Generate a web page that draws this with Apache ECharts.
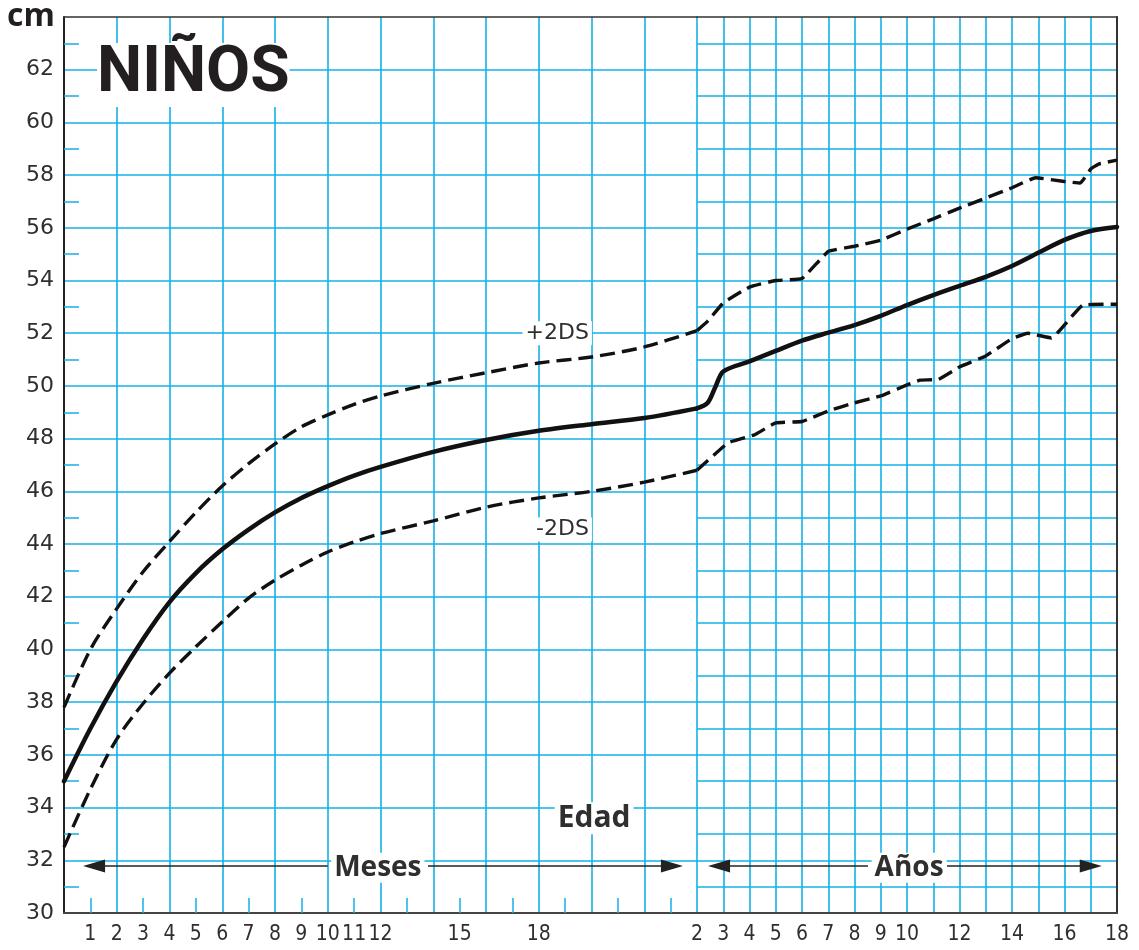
<!DOCTYPE html>
<html>
<head>
<meta charset="utf-8">
<title>NIÑOS</title>
<script src="https://cdn.jsdelivr.net/npm/echarts@6/dist/echarts.min.js"></script>
<style>
html, body { margin: 0; padding: 0; background: #fff; }
#chart { width: 1139px; height: 950px; }
</style>
</head>
<body>
<div id="chart"></div>
<script>
// primer tramo: edad en meses (0 a 24)
var edadMeses = [0, 1, 2, 3, 4, 5, 6, 7, 8, 9, 10, 11, 12, 14, 16, 18, 20, 22, 24];
var medianaMeses = [35.0, 37.0, 38.8, 40.4, 41.8, 42.9, 43.8, 44.55, 45.2, 45.75, 46.2, 46.6, 46.93, 47.5, 47.95, 48.3, 48.55, 48.78, 49.15];
var mas2dsMeses = [37.8, 40.0, 41.55, 42.95, 44.1, 45.2, 46.2, 47.05, 47.8, 48.45, 48.9, 49.3, 49.62, 50.1, 50.5, 50.87, 51.1, 51.48, 52.1];
var menos2dsMeses = [32.5, 34.7, 36.6, 37.95, 39.1, 40.1, 41.05, 41.95, 42.63, 43.2, 43.7, 44.08, 44.4, 44.88, 45.4, 45.75, 46.0, 46.35, 46.8];

// segundo tramo: edad en años (2 a 18)
var medianaEdadAnos = [2.4, 2.7, 3, 4, 5, 6, 7, 8, 9, 10, 11, 12, 13, 14, 15, 16, 17, 18];
var medianaAnos = [49.35, 49.96, 50.55, 50.93, 51.33, 51.72, 52.02, 52.31, 52.66, 53.07, 53.45, 53.8, 54.14, 54.55, 55.05, 55.54, 55.88, 56.03];
var mas2dsEdadAnos = [2.4, 3, 4, 5, 6, 7, 8, 9, 10, 11, 12, 13, 14, 14.9, 16, 16.6, 17, 17.3, 18];
var mas2dsAnos = [52.45, 53.15, 53.75, 54.0, 54.08, 55.1, 55.3, 55.53, 55.95, 56.34, 56.75, 57.13, 57.52, 57.9, 57.76, 57.7, 58.23, 58.42, 58.57];
var menos2dsEdadAnos = [3.2, 4.2, 5, 6, 7, 8, 9, 10, 10.5, 11.2, 12, 13, 14, 14.6, 15.5, 16.7, 18];
var menos2dsAnos = [47.85, 48.15, 48.6, 48.65, 49.05, 49.36, 49.62, 50.04, 50.22, 50.25, 50.72, 51.14, 51.79, 52.0, 51.82, 53.07, 53.1];

// etiquetas de los ejes
var etiquetasMeses = [1, 2, 3, 4, 5, 6, 7, 8, 9, 10, 11, 12, 15, 18];
var etiquetasAnos = [3, 4, 5, 6, 7, 8, 9, 10, 12, 14, 16, 18];

var azul = '#14b1e7';
var negro = '#111';
var gris = '#2f2f2f';
var estrecha = "'Liberation Sans Narrow', 'DejaVu Sans Condensed', sans-serif";

function pares(xs, ys) {
    return xs.map(function (x, i) { return [x, ys[i]]; });
}

// los años empiezan donde terminan los meses (24 meses = 2 años)
function desde2(meses, xs, ys) {
    return [[2, meses[meses.length - 1]]].concat(pares(xs, ys));
}

function texto(coord, txt, size, weight, family) {
    return {
        coord: coord,
        symbol: 'rect',
        symbolSize: 1,
        itemStyle: { color: 'rgba(0,0,0,0)' },
        label: {
            show: true, position: 'inside', formatter: txt,
            fontSize: size, fontWeight: weight, fontFamily: family, color: gris,
            backgroundColor: '#fff', padding: [1, 3]
        }
    };
}

function flecha(a, b, puntaInicio) {
    return [
        { coord: a, symbol: puntaInicio ? 'triangle' : 'none', symbolSize: [13, 22] },
        { coord: b, symbol: puntaInicio ? 'none' : 'triangle', symbolSize: [13, 22] }
    ];
}

var marcaLinea = {
    silent: true,
    label: { show: false },
    lineStyle: { color: '#222', width: 1.6, type: 'solid' },
    itemStyle: { color: '#222' }
};

function linea(datos, xi, yi, ancho, discontinua) {
    return {
        type: 'line',
        xAxisIndex: xi,
        yAxisIndex: yi,
        data: datos,
        showSymbol: false,
        silent: true,
        smooth: discontinua && xi === 3 ? 0.1 : 0.3,
        lineStyle: {
            color: negro,
            width: ancho,
            type: discontinua ? [15, 7] : 'solid',
            cap: discontinua ? 'butt' : 'round'
        },
        z: 5
    };
}

var chart = echarts.init(document.getElementById('chart'));

var medianaM = linea(pares(edadMeses, medianaMeses), 0, 0, 4.5, false);
medianaM.markPoint = {
    silent: true,
    data: [
        texto([18.7, 52.0], '+2DS', 22, 'normal', 'DejaVu Sans'),
        texto([18.9, 44.55], '-2DS', 22, 'normal', 'DejaVu Sans'),
        texto([20.1, 33.6], 'Edad', 30, 'bold', 'Open Sans'),
        texto([11.9, 31.72], 'Meses', 28, 'bold', 'Open Sans')
    ]
};
medianaM.markLine = Object.assign({
    data: [
        flecha([1.14, 31.78], [10.0, 31.78], true),
        flecha([13.8, 31.78], [23.05, 31.78], false)
    ]
}, marcaLinea);

var medianaA = linea(desde2(medianaMeses, medianaEdadAnos, medianaAnos), 3, 1, 4.5, false);
medianaA.markPoint = {
    silent: true,
    data: [texto([10.08, 31.72], 'Años', 28, 'bold', 'Open Sans')]
};
medianaA.markLine = Object.assign({
    data: [
        flecha([2.84, 31.78], [8.51, 31.78], true),
        flecha([11.52, 31.78], [17.0, 31.78], false)
    ]
}, marcaLinea);

var option = {
    animation: false,
    backgroundColor: '#fff',
    title: [
        {
            text: 'NIÑOS', left: 97, top: 49, padding: 0,
            backgroundColor: '#fff',
            textStyle: { fontFamily: 'Roboto', fontWeight: 'bold', fontSize: 64, lineHeight: 52, color: '#231f20' }
        },
        {
            text: 'cm', left: 7, top: 1, padding: 0,
            textStyle: { fontFamily: 'Open Sans', fontWeight: 'bold', fontSize: 32, lineHeight: 32, color: '#231f20' }
        }
    ],
    grid: [
        { left: 64, top: 17, width: 633, bottom: 37 },
        { left: 697, top: 17, width: 420, bottom: 37 }
    ],
    xAxis: [
        { // meses: cuadrícula cada 2 meses y marcas cortas en los impares
            gridIndex: 0, type: 'value', min: 0, max: 24, interval: 2, position: 'bottom',
            axisLine: { show: true, onZero: false, lineStyle: { color: '#444', width: 2 } },
            axisTick: { show: false, inside: true },
            minorTick: { show: true, splitNumber: 2, length: 15, lineStyle: { color: azul, width: 1.5 } },
            axisLabel: { show: false },
            splitLine: { show: true, showMinLine: false, showMaxLine: true, lineStyle: { color: azul, width: 1.6 } }
        },
        { // meses: etiquetas
            gridIndex: 0, type: 'value', min: 0, max: 24, interval: 1, position: 'bottom',
            axisLine: { show: false, onZero: false }, axisTick: { show: false }, splitLine: { show: false },
            axisLabel: {
                showMaxLabel: true, showMinLabel: false, margin: 11, fontSize: 21, fontFamily: estrecha, color: gris,
                formatter: function (v) {
                    if (v === 24) return '2';
                    return etiquetasMeses.indexOf(v) >= 0 ? String(v) : '';
                }
            }
        },
        { // borde superior (meses)
            gridIndex: 0, type: 'value', min: 0, max: 24, position: 'top',
            axisLine: { show: true, onZero: false, lineStyle: { color: '#333', width: 1.5 } },
            axisTick: { show: false }, axisLabel: { show: false }, splitLine: { show: false }
        },
        { // años
            gridIndex: 1, type: 'value', min: 2, max: 18, interval: 1, position: 'bottom',
            axisLine: { show: true, onZero: false, lineStyle: { color: '#444', width: 2 } },
            axisTick: { show: false },
            axisLabel: {
                showMaxLabel: true, showMinLabel: false, margin: 11, fontSize: 21, fontFamily: estrecha, color: gris,
                formatter: function (v) {
                    return etiquetasAnos.indexOf(v) >= 0 ? String(v) : '';
                }
            },
            splitLine: { show: true, showMinLine: false, showMaxLine: false, lineStyle: { color: azul, width: 1.6 } }
        },
        { // borde superior (años)
            gridIndex: 1, type: 'value', min: 2, max: 18, position: 'top',
            axisLine: { show: true, onZero: false, lineStyle: { color: '#333', width: 1.5 } },
            axisTick: { show: false }, axisLabel: { show: false }, splitLine: { show: false }
        }
    ],
    yAxis: [
        { // cm, cuadrícula cada 2 en la zona de meses
            gridIndex: 0, type: 'value', min: 30, max: 64, interval: 2, position: 'left',
            axisLine: { show: true, onZero: false, lineStyle: { color: '#222', width: 2 } },
            axisTick: { show: false, inside: true },
            minorTick: { show: true, splitNumber: 2, length: 15, lineStyle: { color: azul, width: 1.5 } },
            axisLabel: {
                margin: 10, fontSize: 22, fontFamily: 'DejaVu Sans', color: gris,
                formatter: function (v) { return v === 64 ? '' : String(v); }
            },
            splitLine: { show: true, showMinLine: false, showMaxLine: false, lineStyle: { color: azul, width: 1.6 } }
        },
        { // cuadrícula cada 1 cm en la zona de años
            gridIndex: 1, type: 'value', min: 30, max: 64, interval: 1, position: 'left',
            axisLine: { show: false, onZero: false }, axisTick: { show: false }, axisLabel: { show: false },
            splitLine: { show: true, showMinLine: false, showMaxLine: false, lineStyle: { color: azul, width: 1.6 } }
        },
        { // borde derecho
            gridIndex: 1, type: 'value', min: 30, max: 64, position: 'right',
            axisLine: { show: true, onZero: false, lineStyle: { color: '#333', width: 2 } },
            axisTick: { show: false }, axisLabel: { show: false }, splitLine: { show: false }
        }
    ],
    series: [
        medianaM,
        linea(pares(edadMeses, mas2dsMeses), 0, 0, 3.4, true),
        linea(pares(edadMeses, menos2dsMeses), 0, 0, 3.4, true),
        medianaA,
        linea(desde2(mas2dsMeses, mas2dsEdadAnos, mas2dsAnos), 3, 1, 3.4, true),
        linea(desde2(menos2dsMeses, menos2dsEdadAnos, menos2dsAnos), 3, 1, 3.4, true)
    ]
};

chart.setOption(option);
</script>
</body>
</html>
